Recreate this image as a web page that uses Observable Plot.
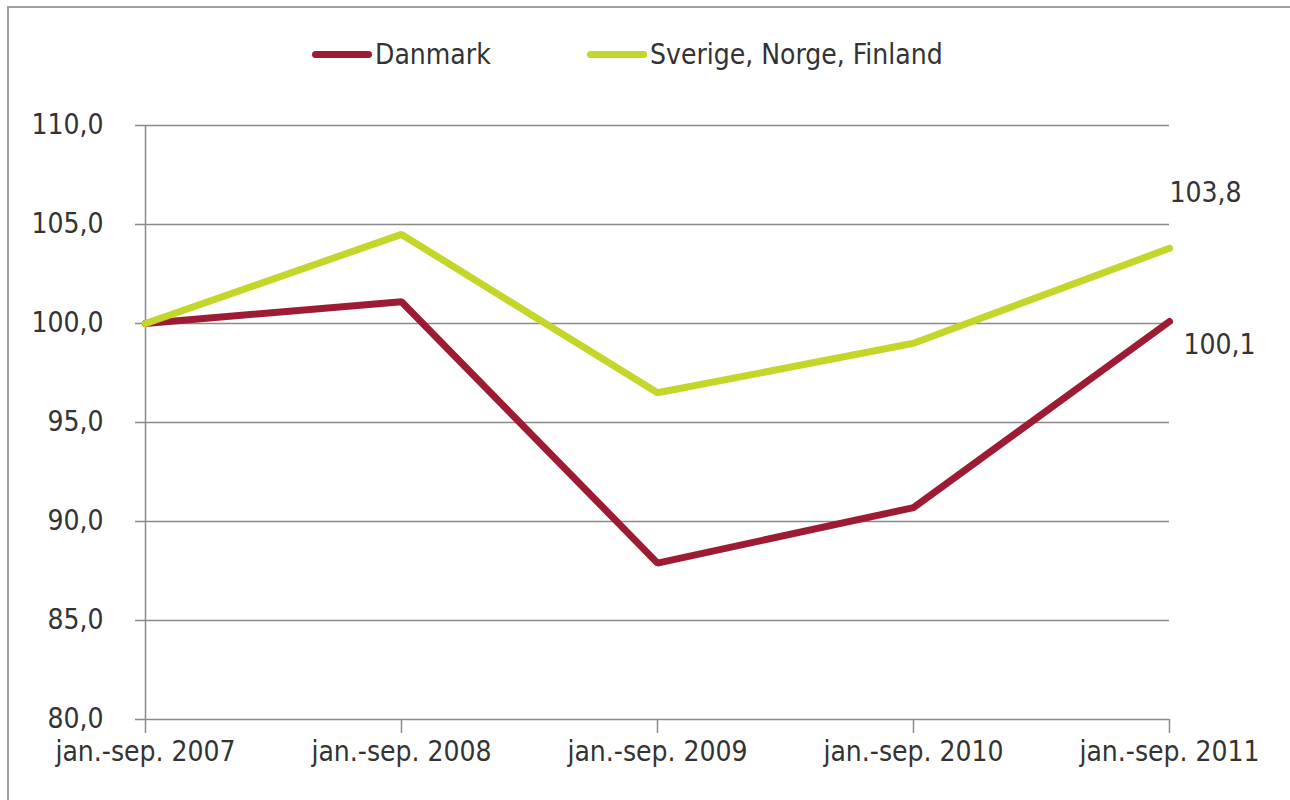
<!DOCTYPE html>
<html>
<head>
<meta charset="utf-8">
<script src="https://cdn.jsdelivr.net/npm/d3@7"></script>
<script src="https://cdn.jsdelivr.net/npm/@observablehq/plot@0.6"></script>
<style>
  html, body { margin: 0; padding: 0; background: #fff; }
  body { width: 1290px; height: 800px; overflow: hidden; position: relative;
         font-family: "Liberation Sans Narrow", "DejaVu Sans Condensed", "Roboto", sans-serif; font-stretch: condensed; color: #333; }
  #frame { position: absolute; left: 7px; top: 6px; width: 1300px; height: 820px;
           border-left: 2px solid #a0a0a0; border-top: 2px solid #a0a0a0; }
  #legend { position: absolute; left: 0; top: 0; width: 1290px; height: 90px; }
  .item { position: absolute; top: 38px; font-size: 28px; line-height: 34px; white-space: nowrap; }
  .sw { display: inline-block; width: 60px; height: 7px; border-radius: 4px; vertical-align: middle; margin-right: 3px; position: relative; top: -2px; }
  #chart { position: absolute; left: 0; top: 90px; }
</style>
</head>
<body>
<div id="frame"></div>
<div id="legend"></div>
<div id="chart"></div>
<script>
const periods = ["jan.-sep. 2007", "jan.-sep. 2008", "jan.-sep. 2009", "jan.-sep. 2010", "jan.-sep. 2011"];
const seriesNames = ["Danmark", "Sverige, Norge, Finland"];
const seriesColors = ["#9e1b34", "#c4d62a"];
const danmark = [100.0, 101.1, 87.9, 90.7, 100.1];
const nordic = [100.0, 104.5, 96.5, 99.0, 103.8];
const yTicks = [80, 85, 90, 95, 100, 105, 110];

const fmt = v => v.toFixed(1).replace(".", ",");

const data = periods.flatMap((p, i) => [
  {period: p, series: seriesNames[0], value: danmark[i]},
  {period: p, series: seriesNames[1], value: nordic[i]}
]);

// legend
const legend = document.getElementById("legend");
const legendX = [312, 587];
seriesNames.forEach((s, i) => {
  const d = document.createElement("div");
  d.className = "item";
  d.style.left = legendX[i] + "px";
  d.innerHTML = `<span class="sw" style="background:${seriesColors[i]}"></span>${s}`;
  legend.appendChild(d);
});

const last = periods.length - 1;
const endLabels = [
  {period: periods[last], value: nordic[last], text: fmt(nordic[last]), dx: 36, dy: -55},
  {period: periods[last], value: danmark[last], text: fmt(danmark[last]), dx: 50, dy: 24}
];

const font = '"Liberation Sans Narrow", "DejaVu Sans Condensed", "Roboto", sans-serif';

const chart = Plot.plot({
  width: 1290,
  height: 710,
  marginLeft: 145,
  marginRight: 121,
  marginTop: 35,
  marginBottom: 81,
  style: {fontFamily: font, fontSize: "28px", color: "#333", background: "transparent"},
  x: {type: "point", domain: periods, padding: 0, label: null},
  y: {domain: [80, 110], label: null},
  color: {domain: seriesNames, range: seriesColors},
  marks: [
    Plot.ruleY(yTicks, {stroke: "#8a8a8a", strokeWidth: 1.5}),
    Plot.ruleX([periods[0]], {y1: 80, y2: 110, stroke: "#8a8a8a", strokeWidth: 1.5}),
    Plot.axisY({ticks: yTicks, tickFormat: fmt, tickSize: 10, tickPadding: 32, stroke: "#8a8a8a", strokeWidth: 1.5, fill: "#333", label: null}),
    Plot.axisX({tickSize: 14, tickPadding: 8, stroke: "#8a8a8a", strokeWidth: 1.5, fill: "#333", label: null}),
    Plot.line(data, {x: "period", y: "value", z: "series", stroke: "series", strokeWidth: 7, strokeLinejoin: "miter", strokeLinecap: "round"}),
    ...endLabels.map(l => Plot.text([l], {x: "period", y: "value", text: "text", dx: l.dx, dy: l.dy, fill: "#333", fontSize: 28}))
  ]
});
document.getElementById("chart").appendChild(chart);
</script>
</body>
</html>
